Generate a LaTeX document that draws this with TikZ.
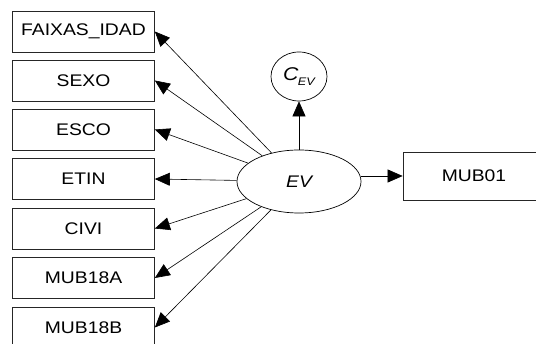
\documentclass[tikz,border=0pt]{standalone}
\usepackage{fontspec}
\setmainfont{Liberation Sans}[FakeStretch=1.15]
\usetikzlibrary{shapes.geometric,arrows.meta}
\begin{document}
\begin{tikzpicture}[x=1pt,y=-1pt,
  obsbox/.style={draw=black!85,line width=0.7pt,rectangle,minimum width=142pt,minimum height=41pt,inner sep=0pt,font=\fontsize{16.8}{19}\selectfont},
  latent/.style={draw=black,line width=0.7pt,ellipse,inner sep=0pt,font=\fontsize{16.8}{19}\selectfont\itshape},
  conn/.style={draw=black,line width=0.6pt,-{Triangle[length=15pt,width=13pt]}}]
\useasboundingbox (0,0) rectangle (536,344);
\clip (0,0) rectangle (536,344);
\node[obsbox] (faixas) at (83.5,31.5) {FAIXAS\_IDAD};
\node[obsbox] (sexo) at (83.5,80.5) {SEXO};
\node[obsbox] (esco) at (83.5,129.5) {ESCO};
\node[obsbox] (etin) at (83.5,179) {ETIN};
\node[obsbox] (civi) at (83.5,228.5) {CIVI};
\node[obsbox] (mubA) at (83.5,278) {MUB18A};
\node[obsbox] (mubB) at (83.5,327.5) {MUB18B};
\node[obsbox,minimum height=48pt] (mub01) at (474,176) {MUB01};
\node[latent,minimum width=124pt,minimum height=63pt] (ev) at (299,181.5) {EV};
\node[latent,minimum width=56pt,minimum height=49pt,font=\fontsize{18.5}{20}\selectfont\itshape] (cev) at (299,76.5) {C\kern-0.5pt\raisebox{-0.25em}{\fontsize{11}{12}\selectfont EV}};
\draw[conn] (ev) -- (faixas.east);
\draw[conn] (ev) -- (sexo.east);
\draw[conn] (ev) -- (esco.east);
\draw[conn] (ev) -- (etin.east);
\draw[conn] (ev) -- (civi.east);
\draw[conn] (ev) -- (mubA.east);
\draw[conn] (ev) -- (mubB.east);
\draw[conn] (ev) -- (cev);
\draw[conn] (ev.east |- mub01.west) -- (mub01.west);
\end{tikzpicture}
\end{document}
